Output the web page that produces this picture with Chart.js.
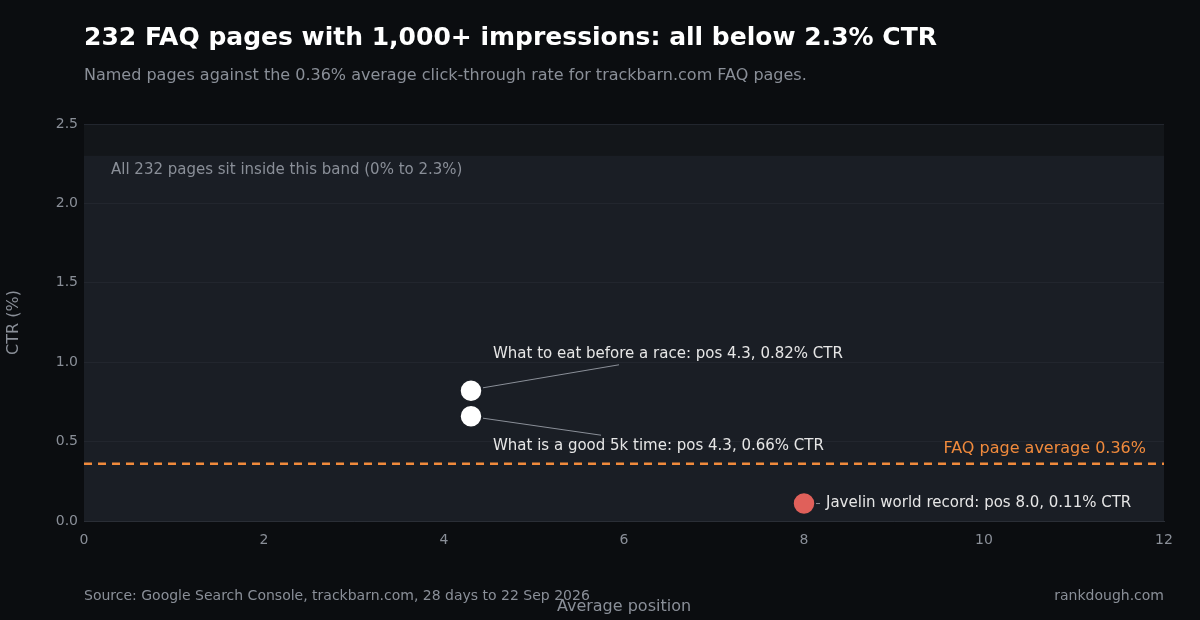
<!DOCTYPE html>
<html>
<head>
<meta charset="utf-8">
<script src="https://cdn.jsdelivr.net/npm/chart.js@4/dist/chart.umd.min.js"></script>
<style>
  html, body { margin: 0; padding: 0; background: #0b0d10; }
  #wrap { width: 1200px; height: 620px; position: relative; }
</style>
</head>
<body>
<div id="wrap"><canvas id="c" width="1200" height="620"></canvas></div>
<script>
// Data
const pointLabels = [
  'What to eat before a race: pos 4.3, 0.82% CTR',
  'What is a good 5k time: pos 4.3, 0.66% CTR',
  'Javelin world record: pos 8.0, 0.11% CTR'
];
const positions = [4.3, 4.3, 8.0];
const ctrs = [0.82, 0.66, 0.11];
const pointColors = ['#ffffff', '#ffffff', '#e0605a'];
const avgCtr = 0.36;
const bandTop = 2.3;
const xTicks = [0, 2, 4, 6, 8, 10, 12];
const yTicks = [0, 0.5, 1.0, 1.5, 2.0, 2.5];

const FONT = '"DejaVu Sans", "Open Sans", sans-serif';

// label offsets relative to the point (pixels) and text anchor
const labelPlacement = [
  { dx: 22, dy: -37, lx: 148, ly: -26, align: 'left' },
  { dx: 22, dy: 30, lx: 130, ly: 19, align: 'left' },
  { dx: 22, dy: 0, lx: 16, ly: 0, align: 'left' }
];

const decor = {
  id: 'decor',
  beforeDraw(chart) {
    const { ctx, chartArea: a, scales: { x, y } } = chart;
    ctx.save();
    ctx.fillStyle = '#0b0d10';
    ctx.fillRect(0, 0, chart.width, chart.height);
    ctx.fillStyle = '#13161a';
    ctx.fillRect(a.left, a.top, a.right - a.left, a.bottom - a.top);
    const yb = y.getPixelForValue(bandTop);
    ctx.fillStyle = '#1a1e25';
    ctx.fillRect(a.left, yb, a.right - a.left, a.bottom - yb);
    ctx.restore();
  },
  afterDraw(chart) {
    const { ctx, chartArea: a, scales: { x, y } } = chart;
    ctx.save();
    ctx.textBaseline = 'middle';
    ctx.fillStyle = '#ffffff';
    ctx.font = 'bold 25px ' + FONT;
    ctx.fillText('232 FAQ pages with 1,000+ impressions: all below 2.3% CTR', 84, 38);
    ctx.fillStyle = '#8a8f98';
    ctx.font = '16px ' + FONT;
    ctx.fillText('Named pages against the 0.36% average click-through rate for trackbarn.com FAQ pages.', 84, 76);
    ctx.font = '14px ' + FONT;
    ctx.fillText('Source: Google Search Console, trackbarn.com, 28 days to 22 Sep 2026', 84, 596);
    ctx.textAlign = 'right';
    ctx.fillText('rankdough.com', 1164, 596);
    ctx.textAlign = 'left';
    ctx.font = '15px ' + FONT;
    ctx.fillText('All 232 pages sit inside this band (0% to 2.3%)', 111, 170);
    // average label
    ctx.fillStyle = '#f08a3c';
    ctx.font = '16px ' + FONT;
    ctx.textAlign = 'right';
    ctx.fillText('FAQ page average 0.36%', 1146, y.getPixelForValue(avgCtr) - 15);
    // point labels
    ctx.font = '15px ' + FONT;
    ctx.textAlign = 'left';
    positions.forEach((p, i) => {
      const px = x.getPixelForValue(p), py = y.getPixelForValue(ctrs[i]);
      const L = labelPlacement[i];
      ctx.strokeStyle = '#8a8f98';
      ctx.lineWidth = 1;
      ctx.beginPath();
      ctx.moveTo(px + 12, py - (i === 0 ? 3 : i === 1 ? -2 : 0));
      ctx.lineTo(px + L.lx, py + L.ly);
      ctx.stroke();
      ctx.fillStyle = '#e6e6e6';
      ctx.fillText(pointLabels[i], px + L.dx, py + L.dy);
    });
    ctx.restore();
  }
};

new Chart(document.getElementById('c'), {
  type: 'scatter',
  data: {
    datasets: [
      {
        type: 'line',
        data: [{ x: 0, y: avgCtr }, { x: 12, y: avgCtr }],
        borderColor: '#f08a3c',
        borderWidth: 2.5,
        borderDash: [8, 6],
        pointRadius: 0,
        order: 2
      },
      {
        data: positions.map((p, i) => ({ x: p, y: ctrs[i] })),
        backgroundColor: pointColors,
        borderColor: '#1a1e25',
        borderWidth: 1.5,
        pointRadius: 11,
        order: 1
      }
    ]
  },
  options: {
    responsive: false,
    animation: false,
    layout: { padding: { top: 124, right: 36, left: 0, bottom: 0 } },
    plugins: { legend: { display: false }, tooltip: { enabled: false } },
    scales: {
      x: {
        type: 'linear', min: 0, max: 12,
        afterBuildTicks: s => { s.ticks = xTicks.map(v => ({ value: v })); },
        afterFit: s => { s.height = 99; },
        grid: { display: false },
        border: { color: '#2a2e36' },
        ticks: { color: '#8a8f98', font: { family: FONT, size: 14 } },
        title: { display: true, text: 'Average position', color: '#8a8f98', font: { family: FONT, size: 16 }, padding: { top: 6 } }
      },
      y: {
        min: 0, max: 2.5,
        afterBuildTicks: s => { s.ticks = yTicks.map(v => ({ value: v })); },
        afterFit: s => { s.width = 84; },
        grid: { color: '#22262e', drawTicks: false },
        border: { display: false },
        ticks: { color: '#8a8f98', padding: 6, font: { family: FONT, size: 14 }, callback: v => v.toFixed(1) },
        title: { display: true, text: 'CTR (%)', color: '#8a8f98', font: { family: FONT, size: 16 } }
      }
    }
  },
  plugins: [decor]
});
</script>
</body>
</html>
